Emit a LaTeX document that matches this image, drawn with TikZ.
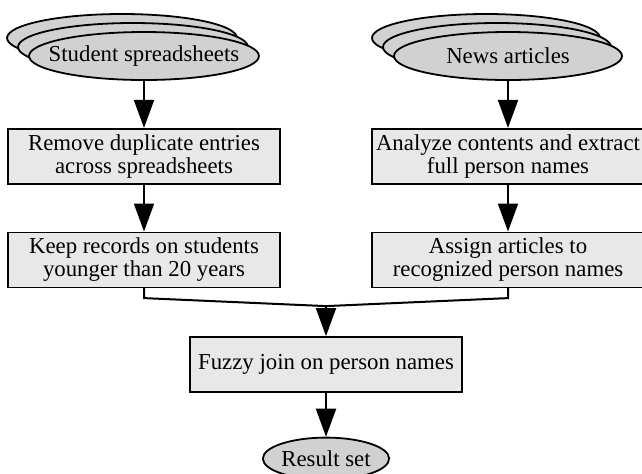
\documentclass[tikz,border=0pt]{standalone}
\usepackage{fontspec}
\setmainfont{Liberation Serif}
\usetikzlibrary{shapes.geometric,shadows,arrows.meta,positioning,calc}

\begin{document}
\begin{tikzpicture}[font=\fontsize{11.4}{11.5}\selectfont, node distance=23.5pt]
  \tikzstyle{src}=[ellipse, draw=black, line width=0.9pt, fill=black!18, inner xsep=-7pt, inner ysep=0pt, minimum width=114pt, minimum height=24pt]
  \tikzstyle{stack}=[copy shadow={shadow xshift=-11pt, shadow yshift=9pt, draw=black, line width=0.9pt, fill=black!18},
                     copy shadow={shadow xshift=-5.5pt, shadow yshift=4.5pt, draw=black, line width=0.9pt, fill=black!18}]
  \tikzstyle{proc}=[rectangle, draw=black, line width=0.8pt, fill=black!9, minimum width=136pt, minimum height=27.5pt, inner sep=0pt, align=center]
  \tikzstyle{connect}=[-{Triangle[length=14pt,width=10pt]}, line width=1pt]
  \useasboundingbox (0,0) rectangle (321pt,-236.5pt);
    \node[src, stack] (stu) at (72pt,-28pt) {Student spreadsheets};
    \node[src, stack] (nws) at (254pt,-28pt) {News articles};
    \node[proc, below=of stu] (rem) {Remove duplicate entries\\across spreadsheets};
    \node[proc, below=of rem] (keep) {Keep records on students\\younger than 20 years};
    \node[proc, below=of nws] (ana) {Analyze contents and extract\\full person names};
    \node[proc, below=of ana] (asg) {Assign articles to\\recognized person names};
    \coordinate (join) at ($(keep.south)!0.5!(asg.south)+(0,-9pt)$);
    \node[proc, below=15pt of join] (fuz) {Fuzzy join on person names};
    \node[src, inner xsep=0pt, minimum width=61pt, minimum height=21pt, below=22pt of fuz] (res) {Result set};
    \path (stu) edge [connect] (rem)
          (rem) edge [connect] (keep)
          (nws) edge [connect] (ana)
          (ana) edge [connect] (asg)
          (join) edge [connect] (fuz)
          (fuz) edge [connect] (res);
    \draw[line width=1pt] (keep.south) -- ++(0,-5pt) -- (join);
    \draw[line width=1pt] (asg.south) -- ++(0,-5pt) -- (join);
\end{tikzpicture}
\end{document}
